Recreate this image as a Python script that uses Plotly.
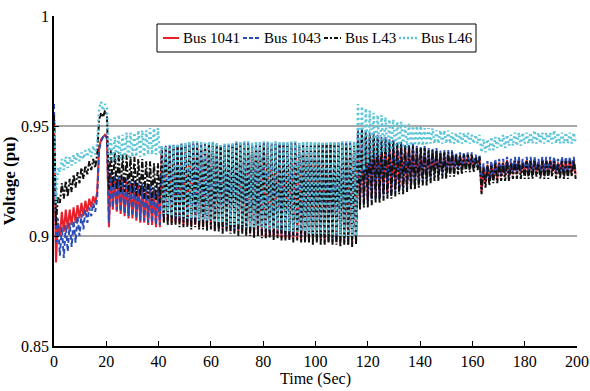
import plotly.graph_objects as go

# ---------------- data ----------------
# samples every 0.75 s, 0 .. 199.5 s
time_s = [round(0.75 * k, 2) for k in range(267)]

legend_names = ["Bus 1041", "Bus 1043", "Bus L43", "Bus L46"]
x_ticks = [0, 20, 40, 60, 80, 100, 120, 140, 160, 180, 200]
y_ticks = [0.85, 0.9, 0.95, 1.0]
y_tick_labels = ["0.85", "0.9", "0.95", "1"]


def zig(a, b):
    """Interleave two explicit lists of extrema: a0, b0, a1, b1, ..."""
    out = []
    for i in range(len(b)):
        out += [a[i], b[i]]
    if len(a) > len(b):
        out.append(a[-1])
    return out


# ---- Bus 1041 (red) ----
bus1041 = (
    [0.955, 0.888, 0.906]
    + zig([0.900, 0.902, 0.903, 0.905, 0.906, 0.908, 0.909, 0.911, 0.913, 0.915],
          [0.911, 0.912, 0.912, 0.913, 0.914, 0.915, 0.916, 0.917, 0.918, 0.920])
    + [0.940, 0.944, 0.945, 0.946, 0.945]
    + [0.904]
    + zig([0.928, 0.927, 0.926, 0.926, 0.925, 0.924, 0.924, 0.923, 0.923, 0.922, 0.922, 0.921, 0.921],
          [0.912, 0.911, 0.910, 0.909, 0.908, 0.908, 0.907, 0.906, 0.906, 0.905, 0.905, 0.904, 0.904])
    + zig([0.940, 0.9405, 0.9405, 0.941, 0.941, 0.9415, 0.9415, 0.942, 0.942, 0.942,
           0.942, 0.9415, 0.942, 0.942, 0.9415, 0.941, 0.941, 0.941, 0.9415, 0.942,
           0.942, 0.942, 0.942, 0.9415, 0.942, 0.942, 0.942, 0.942, 0.9415, 0.942,
           0.942, 0.942, 0.942, 0.942, 0.942, 0.9415, 0.942, 0.942, 0.942, 0.942,
           0.942, 0.942, 0.942, 0.942, 0.942, 0.942, 0.942, 0.942, 0.942, 0.942],
          [0.907, 0.907, 0.906, 0.906, 0.906, 0.905, 0.905, 0.905, 0.905, 0.904,
           0.904, 0.904, 0.904, 0.903, 0.903, 0.903, 0.903, 0.902, 0.902, 0.902,
           0.902, 0.901, 0.901, 0.901, 0.901, 0.900, 0.900, 0.900, 0.900, 0.900,
           0.899, 0.899, 0.899, 0.899, 0.899, 0.898, 0.898, 0.898, 0.898, 0.898,
           0.898, 0.897, 0.897, 0.897, 0.897, 0.897, 0.897, 0.896, 0.897, 0.897])
    + zig([0.946, 0.947, 0.946, 0.945, 0.945, 0.944, 0.943, 0.943, 0.942, 0.942, 0.941, 0.941,
           0.940, 0.940, 0.940, 0.939, 0.939, 0.939, 0.938, 0.938, 0.938, 0.937, 0.937, 0.937,
           0.937, 0.936, 0.936, 0.936, 0.936, 0.936, 0.935, 0.935],
          [0.915, 0.916, 0.916, 0.917, 0.918, 0.918, 0.919, 0.920, 0.920, 0.921, 0.922, 0.922,
           0.923, 0.924, 0.924, 0.925, 0.926, 0.926, 0.927, 0.928, 0.928, 0.929, 0.929, 0.930,
           0.930, 0.931, 0.931, 0.932, 0.932, 0.932, 0.933])
    + [0.920]
    + zig([0.9315, 0.9325, 0.9325, 0.9335, 0.9335, 0.9335, 0.9345, 0.9335, 0.9345, 0.9345, 0.9335, 0.9345,
           0.9345, 0.9345, 0.9335, 0.9345, 0.9345, 0.9345, 0.9345, 0.9335, 0.9345, 0.9345, 0.9345, 0.9345],
          [0.924, 0.925, 0.926, 0.926, 0.927, 0.927, 0.927, 0.928, 0.928, 0.928, 0.928, 0.928,
           0.928, 0.929, 0.928, 0.928, 0.928, 0.929, 0.928, 0.928, 0.928, 0.928, 0.929, 0.928])
)

# ---- Bus 1043 (blue) ----
bus1043 = (
    [0.960, 0.897, 0.908]
    + zig([0.891, 0.890, 0.893, 0.895, 0.897, 0.900, 0.903, 0.906, 0.909, 0.911],
          [0.904, 0.905, 0.906, 0.907, 0.909, 0.910, 0.912, 0.913, 0.915, 0.917])
    + [0.939, 0.943, 0.945, 0.946, 0.944]
    + [0.906]
    + zig([0.929, 0.928, 0.927, 0.927, 0.926, 0.925, 0.925, 0.924, 0.924, 0.923, 0.923, 0.922, 0.922],
          [0.913, 0.912, 0.911, 0.910, 0.909, 0.909, 0.908, 0.907, 0.907, 0.906, 0.906, 0.905, 0.905])
    + zig([0.9405, 0.941, 0.941, 0.9415, 0.9415, 0.942, 0.942, 0.9425, 0.9425, 0.9425,
           0.9425, 0.942, 0.9425, 0.9425, 0.942, 0.9415, 0.9415, 0.9415, 0.942, 0.9425,
           0.9425, 0.9425, 0.9425, 0.942, 0.9425, 0.9425, 0.9425, 0.9425, 0.942, 0.9425,
           0.9425, 0.9425, 0.9425, 0.9425, 0.9425, 0.942, 0.9425, 0.9425, 0.9425, 0.9425,
           0.9425, 0.9425, 0.9425, 0.9425, 0.9425, 0.9425, 0.9425, 0.9425, 0.9425, 0.9425],
          [0.908, 0.908, 0.908, 0.907, 0.907, 0.907, 0.906, 0.906, 0.906, 0.906,
           0.905, 0.905, 0.905, 0.905, 0.904, 0.904, 0.904, 0.904, 0.903, 0.903,
           0.903, 0.903, 0.902, 0.902, 0.902, 0.902, 0.901, 0.901, 0.901, 0.901,
           0.901, 0.900, 0.900, 0.900, 0.900, 0.900, 0.899, 0.899, 0.899, 0.899,
           0.899, 0.899, 0.898, 0.898, 0.898, 0.898, 0.898, 0.898, 0.898, 0.898])
    + zig([0.948, 0.949, 0.948, 0.947, 0.947, 0.946, 0.945, 0.945, 0.944, 0.944, 0.943, 0.943,
           0.942, 0.942, 0.942, 0.941, 0.941, 0.941, 0.940, 0.940, 0.940, 0.939, 0.939, 0.939,
           0.939, 0.938, 0.938, 0.938, 0.938, 0.938, 0.937, 0.937],
          [0.914, 0.915, 0.915, 0.916, 0.917, 0.917, 0.918, 0.919, 0.919, 0.920, 0.921, 0.921,
           0.922, 0.923, 0.923, 0.924, 0.925, 0.925, 0.926, 0.927, 0.927, 0.928, 0.928, 0.929,
           0.929, 0.930, 0.930, 0.931, 0.931, 0.931, 0.932])
    + [0.921]
    + zig([0.933, 0.934, 0.934, 0.935, 0.935, 0.935, 0.936, 0.935, 0.936, 0.936, 0.935, 0.936,
           0.936, 0.936, 0.935, 0.936, 0.936, 0.936, 0.936, 0.935, 0.936, 0.936, 0.936, 0.936],
          [0.925, 0.926, 0.927, 0.927, 0.928, 0.928, 0.928, 0.929, 0.929, 0.929, 0.929, 0.929,
           0.929, 0.930, 0.929, 0.929, 0.929, 0.930, 0.929, 0.929, 0.929, 0.929, 0.930, 0.929])
)

# ---- Bus L43 (black) ----
busL43 = (
    [0.955, 0.905, 0.918]
    + zig([0.915, 0.917, 0.918, 0.920, 0.922, 0.924, 0.926, 0.928, 0.930, 0.931],
          [0.924, 0.925, 0.926, 0.928, 0.929, 0.931, 0.932, 0.934, 0.935, 0.937])
    + [0.953, 0.956, 0.954, 0.957, 0.955]
    + [0.921]
    + zig([0.939, 0.938, 0.938, 0.937, 0.937, 0.936, 0.936, 0.935, 0.935, 0.934, 0.934, 0.933, 0.933],
          [0.922, 0.921, 0.920, 0.920, 0.919, 0.919, 0.918, 0.918, 0.917, 0.917, 0.916, 0.916, 0.915])
    + zig([0.9395, 0.940, 0.940, 0.9405, 0.9405, 0.941, 0.941, 0.9415, 0.9415, 0.9415,
           0.9415, 0.941, 0.9415, 0.9415, 0.941, 0.9405, 0.9405, 0.9405, 0.941, 0.9415,
           0.9415, 0.9415, 0.9415, 0.941, 0.9415, 0.9415, 0.9415, 0.9415, 0.941, 0.9415,
           0.9415, 0.9415, 0.9415, 0.9415, 0.9415, 0.941, 0.9415, 0.9415, 0.9415, 0.9415,
           0.9415, 0.9415, 0.9415, 0.9415, 0.9415, 0.9415, 0.9415, 0.9415, 0.9415, 0.9415],
          [0.906, 0.905, 0.905, 0.905, 0.904, 0.904, 0.904, 0.903, 0.904, 0.903,
           0.903, 0.902, 0.903, 0.902, 0.902, 0.901, 0.902, 0.901, 0.901, 0.900,
           0.901, 0.900, 0.900, 0.899, 0.900, 0.899, 0.899, 0.899, 0.898, 0.899,
           0.898, 0.898, 0.898, 0.897, 0.898, 0.897, 0.897, 0.897, 0.896, 0.897,
           0.896, 0.896, 0.897, 0.896, 0.896, 0.895, 0.896, 0.896, 0.895, 0.896])
    + zig([0.947, 0.948, 0.947, 0.946, 0.946, 0.945, 0.944, 0.944, 0.943, 0.943, 0.942, 0.942,
           0.941, 0.941, 0.941, 0.940, 0.940, 0.940, 0.939, 0.939, 0.939, 0.938, 0.938, 0.938,
           0.938, 0.937, 0.937, 0.937, 0.937, 0.937, 0.936, 0.936],
          [0.912, 0.913, 0.913, 0.914, 0.915, 0.915, 0.916, 0.917, 0.917, 0.918, 0.919, 0.919,
           0.920, 0.921, 0.921, 0.922, 0.923, 0.923, 0.924, 0.925, 0.925, 0.926, 0.926, 0.927,
           0.927, 0.928, 0.928, 0.929, 0.929, 0.929, 0.930])
    + [0.919]
    + zig([0.931, 0.932, 0.932, 0.933, 0.933, 0.933, 0.934, 0.933, 0.934, 0.934, 0.933, 0.934,
           0.934, 0.934, 0.933, 0.934, 0.934, 0.934, 0.934, 0.933, 0.934, 0.934, 0.934, 0.934],
          [0.922, 0.923, 0.924, 0.924, 0.925, 0.925, 0.925, 0.926, 0.926, 0.926, 0.926, 0.926,
           0.926, 0.927, 0.926, 0.926, 0.926, 0.927, 0.926, 0.926, 0.926, 0.926, 0.927, 0.926])
)

# ---- Bus L46 (cyan) ----
busL46 = (
    [0.950, 0.915, 0.931]
    + zig([0.929, 0.930, 0.931, 0.932, 0.933, 0.934, 0.935, 0.936, 0.936, 0.937],
          [0.935, 0.936, 0.936, 0.937, 0.938, 0.938, 0.939, 0.940, 0.941, 0.942])
    + [0.958, 0.961, 0.957, 0.960, 0.958]
    + [0.934]
    + zig([0.944, 0.945, 0.946, 0.946, 0.947, 0.947, 0.947, 0.948, 0.948, 0.948, 0.949, 0.949, 0.949],
          [0.934, 0.934, 0.935, 0.935, 0.935, 0.936, 0.936, 0.936, 0.936, 0.937, 0.937, 0.937, 0.937])
    + zig([0.941, 0.941, 0.9415, 0.9415, 0.942, 0.942, 0.9425, 0.943, 0.943, 0.943,
           0.943, 0.9425, 0.943, 0.943, 0.9425, 0.942, 0.942, 0.942, 0.9425, 0.943,
           0.943, 0.943, 0.943, 0.9425, 0.943, 0.943, 0.943, 0.943, 0.9425, 0.943,
           0.943, 0.943, 0.943, 0.943, 0.943, 0.9425, 0.943, 0.943, 0.943, 0.943,
           0.943, 0.943, 0.943, 0.943, 0.943, 0.943, 0.943, 0.943, 0.943, 0.943],
          [0.910, 0.910, 0.909, 0.909, 0.909, 0.908, 0.908, 0.908, 0.908, 0.907,
           0.907, 0.907, 0.907, 0.906, 0.906, 0.906, 0.906, 0.905, 0.905, 0.905,
           0.905, 0.904, 0.904, 0.904, 0.904, 0.904, 0.903, 0.903, 0.903, 0.903,
           0.903, 0.902, 0.902, 0.902, 0.902, 0.902, 0.902, 0.901, 0.901, 0.901,
           0.901, 0.901, 0.901, 0.900, 0.901, 0.900, 0.900, 0.900, 0.900, 0.900])
    + zig([0.960, 0.959, 0.958, 0.957, 0.956, 0.955, 0.955, 0.954, 0.953, 0.953, 0.952, 0.952,
           0.951, 0.951, 0.950, 0.950, 0.950, 0.949, 0.949, 0.949, 0.948, 0.948, 0.948, 0.948,
           0.947, 0.947, 0.947, 0.947, 0.947, 0.946, 0.946, 0.946],
          [0.926, 0.930, 0.933, 0.935, 0.936, 0.937, 0.938, 0.938, 0.939, 0.939, 0.940, 0.940,
           0.940, 0.941, 0.941, 0.941, 0.941, 0.941, 0.942, 0.942, 0.942, 0.942, 0.942, 0.942,
           0.942, 0.942, 0.942, 0.942, 0.942, 0.942, 0.942])
    + [0.938]
    + zig([0.944, 0.944, 0.945, 0.945, 0.945, 0.946, 0.946, 0.946, 0.947, 0.947, 0.947, 0.947,
           0.947, 0.948, 0.947, 0.947, 0.947, 0.947, 0.948, 0.947, 0.947, 0.947, 0.947, 0.947],
          [0.938, 0.939, 0.939, 0.940, 0.940, 0.940, 0.941, 0.941, 0.941, 0.941, 0.942, 0.942,
           0.942, 0.942, 0.942, 0.942, 0.942, 0.942, 0.942, 0.942, 0.942, 0.942, 0.942, 0.942])
)

# ---------------- figure ----------------
FONT = "Times New Roman, Liberation Serif, Tinos, DejaVu Serif, serif"
series = [bus1041, bus1043, busL43, busL46]
colors = ["#e8202a", "#2b4cb3", "#111111", "#5cc6d6"]
dashes = ["solid", "5px,3px", "6px,2px,2px,2px", "2px,3px"]
widths = [2, 2, 2, 2.5]

W, H = 590, 391
ML, MR, MT, MB = 54, 13, 16, 45
PW, PH = W - ML - MR, H - MT - MB


def px_x(px):  # pixel -> paper x
    return (px - ML) / PW


def px_y(py):  # pixel -> paper y
    return (H - MB - py) / PH


fig = go.Figure()
for name, ys, c, d, w in zip(legend_names, series, colors, dashes, widths):
    fig.add_trace(go.Scatter(x=time_s, y=ys, mode="lines", name=name,
                             line=dict(color=c, dash=d, width=w), showlegend=False))

# legend drawn as a boxed row (compact like the original)
shapes = [dict(type="rect", xref="paper", yref="paper",
               x0=px_x(157), x1=px_x(476), y0=px_y(52), y1=px_y(24),
               line=dict(color="black", width=1), fillcolor="white", layer="above")]
annotations = []
sym_x = [(163, 179), (243, 260), (324, 341), (399, 417)]
txt_x = [181, 262, 343, 419]
legend_dashes = ["solid", "4px,2px", "4px,2px,2px,2px", "2px,2px"]
ly = px_y(38)
for name, c, d, w, (a, b), tx in zip(legend_names, colors, legend_dashes, widths, sym_x, txt_x):
    shapes.append(dict(type="line", xref="paper", yref="paper",
                       x0=px_x(a), x1=px_x(b), y0=ly, y1=ly,
                       line=dict(color=c, dash=d, width=w), layer="above"))
    annotations.append(dict(xref="paper", yref="paper", x=px_x(tx), y=ly,
                            xanchor="left", yanchor="middle", text=name, showarrow=False,
                            font=dict(family=FONT, size=15, color="black")))

fig.update_layout(
    width=W, height=H,
    margin=dict(l=ML, r=MR, t=MT, b=MB),
    paper_bgcolor="white", plot_bgcolor="white",
    font=dict(family=FONT, size=16, color="black"),
    showlegend=False,
    shapes=shapes, annotations=annotations,
)
fig.update_xaxes(range=[0, 200], tickvals=x_ticks, ticks="inside", ticklen=5,
                 tickcolor="black", showline=True, linecolor="black", linewidth=1.5,
                 showgrid=False, zeroline=False, automargin=False,
                 tickfont=dict(family=FONT, size=16),
                 title=dict(text="Time (Sec)", standoff=0, font=dict(family=FONT, size=16)))
fig.update_yaxes(range=[0.85, 1.0], tickvals=y_ticks, ticktext=y_tick_labels,
                 ticks="inside", ticklen=5, tickcolor="black",
                 showline=True, linecolor="black", linewidth=1.5,
                 showgrid=True, gridcolor="#a8a8a8", gridwidth=1.5, zeroline=False,
                 automargin=False, tickfont=dict(family=FONT, size=16),
                 title=dict(text="<b>Voltage (pu)</b>", standoff=6, font=dict(family=FONT, size=17)))

fig.write_html("out.html", config={"displayModeBar": False},
               post_script="document.body.style.margin='0';document.body.style.padding='0';")
